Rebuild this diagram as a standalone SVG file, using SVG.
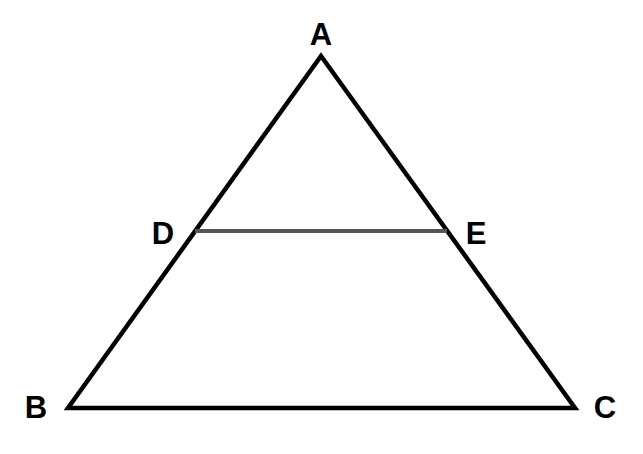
<svg xmlns="http://www.w3.org/2000/svg" width="643" height="454" viewBox="0 0 643 454">
  <style>
    .lbl { font-family: "Liberation Sans", Arial, sans-serif; font-weight: bold; font-size: 31px; fill: #000; text-anchor: middle; }
    .edge { fill: none; stroke: #000; stroke-width: 4.5; stroke-linejoin: miter; }
    .mid { stroke: #555; stroke-width: 4; }
  </style>
  <rect width="643" height="454" fill="#fff"/>
  <g id="connectors">
    <polygon class="edge" points="321,56 68,408 575,408"/>
    <line class="mid" x1="195" y1="231" x2="447" y2="231"/>
  </g>
  <g id="node-A"><text class="lbl" x="321" y="45">A</text></g>
  <g id="node-D"><text class="lbl" x="163" y="244">D</text></g>
  <g id="node-E"><text class="lbl" x="476" y="244">E</text></g>
  <g id="node-B"><text class="lbl" x="36" y="418">B</text></g>
  <g id="node-C"><text class="lbl" x="605" y="418">C</text></g>
</svg>
